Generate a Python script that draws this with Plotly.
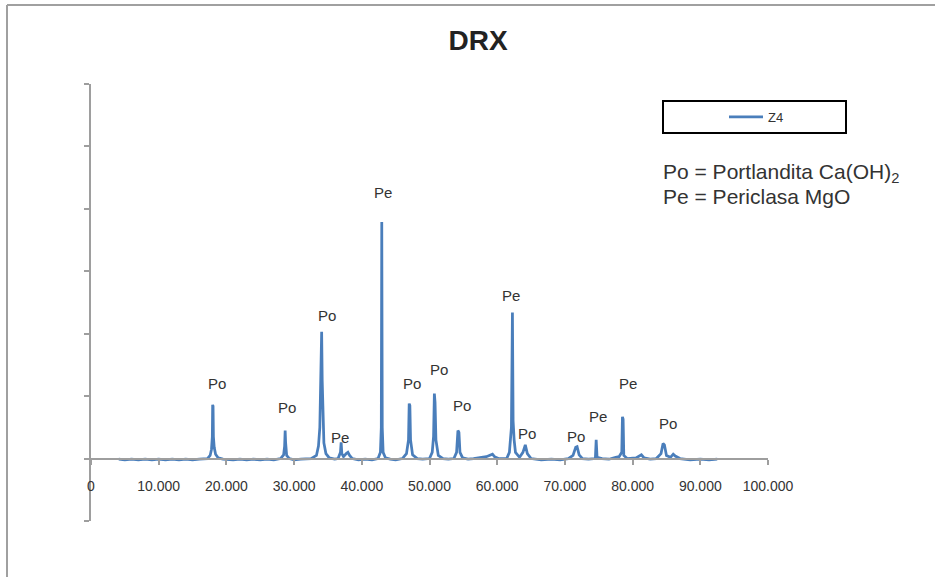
import plotly.graph_objects as go

# --- data (2-theta, relative intensity) ---
two_theta = [4.1, 5.0, 6.0, 7.0, 8.0, 9.0, 10.0, 11.0, 12.0, 13.0, 14.0, 15.0, 16.0, 17.2, 17.6, 17.8,
             17.92, 17.97, 18.03, 18.08, 18.2,
             18.4, 18.8, 19.5, 21.0, 22.0, 23.0, 24.0, 25.0, 26.0, 27.0, 28.0, 28.45, 28.6, 28.68, 28.75,
             28.9, 29.3, 30.0, 31.0,
             32.5, 33.3, 33.6, 33.8, 33.9, 34.0, 34.07, 34.15, 34.25, 34.4, 34.7, 35.2, 36.0, 36.5, 36.85,
             36.95, 37.05, 37.3, 37.7, 37.95, 38.2, 38.6, 39.5, 40.5, 41.5, 42.4, 42.75, 42.88, 42.95,
             43.02, 43.15,
             43.5, 44.2, 45.0, 46.0, 46.6, 46.9, 47.0, 47.1, 47.2, 47.5, 48.2, 49.0, 50.0, 50.4, 50.6,
             50.72, 50.82,
             50.95, 51.3, 52.0, 52.8, 53.6, 54.0, 54.2, 54.35, 54.5, 54.9, 55.7, 56.5, 57.3, 58.4, 59.3,
             59.6,
             60.2, 61.4, 61.8, 62.1, 62.25, 62.35, 62.5, 62.7, 63.3, 63.8, 64.15, 64.45, 65.0, 66.5,
             68.0, 69.3,
             70.5, 71.2, 71.6, 71.8, 72.1, 72.6, 73.5, 74.5, 74.62, 74.75, 75.5, 76.5, 77.5, 78.0, 78.4,
             78.5,
             78.6, 78.7, 79.2, 80.5, 81.3, 81.7, 82.6, 83.5, 84.2, 84.5, 84.7, 85.0, 85.6, 86.0, 86.3,
             87.0, 88.5,
             90.0, 91.3, 92.5]
intensity = [-0.01, -0.02, -0.01, -0.02, -0.01, -0.02, -0.01, -0.02, -0.01, -0.02, -0.01, -0.02, -0.01,
             0.0, 0.05, 0.15,
             0.35, 0.86, 0.84, 0.35, 0.18,
             0.07, 0.01, -0.01, -0.02, -0.01, -0.02, -0.01, -0.02, -0.01, -0.02, 0.0, 0.06, 0.2, 0.45, 0.25,
             0.05, 0.0, -0.02, -0.01,
             0.0, 0.05, 0.2, 0.5, 1.2, 1.4, 2.03, 1.25, 0.6, 0.25, 0.08, 0.01, -0.01, 0.0, 0.1,
             0.26, 0.08, 0.03, 0.08, 0.1, 0.05, 0.0, -0.02, -0.01, -0.02, 0.0, 0.1, 0.5, 3.79,
             0.5, 0.1,
             0.01, -0.01, -0.02, 0.0, 0.08, 0.3, 0.88, 0.85, 0.3, 0.06, 0.0, -0.01, 0.0, 0.1, 0.35,
             1.04, 0.9,
             0.3, 0.05, 0.0, -0.01, 0.0, 0.1, 0.45, 0.42, 0.1, 0.01, -0.01, 0.0, 0.01, 0.03, 0.07,
             0.03,
             0.0, 0.0, 0.1, 0.5, 2.34, 0.6, 0.3, 0.1, 0.02, 0.1, 0.22, 0.08, 0.0, -0.02,
             -0.01, -0.02,
             0.0, 0.05, 0.18, 0.19, 0.06, 0.0, -0.01, 0.0, 0.3, 0.02, 0.0, -0.01, 0.02, 0.03, 0.1,
             0.67,
             0.63, 0.05, 0.0, 0.01, 0.06, 0.01, -0.01, 0.0, 0.08, 0.24, 0.22, 0.05, 0.02, 0.07, 0.04,
             0.0, -0.02,
             -0.01, -0.02, -0.01]

peak_labels = ["Po", "Po", "Po", "Pe", "Pe", "Po", "Po", "Po", "Pe", "Po", "Po", "Pe", "Pe", "Po"]
label_x = [18.6, 29.0, 34.9, 36.8, 43.1, 47.4, 51.4, 54.8, 62.0, 64.4, 71.6, 74.9, 79.3, 85.2]
label_y = [1.20, 0.82, 2.29, 0.34, 4.26, 1.20, 1.42, 0.85, 2.61, 0.40, 0.35, 0.67, 1.20, 0.56]

x_tickvals = [0, 10, 20, 30, 40, 50, 60, 70, 80, 90, 100]
x_ticktext = ["0", "10.000", "20.000", "30.000", "40.000", "50.000", "60.000",
              "70.000", "80.000", "90.000", "100.000"]

FONT = "Liberation Sans, Arial, sans-serif"
TXT = "#333333"
AX = "#9e9e9e"
BLUE = "#4A7EBB"

fig = go.Figure()
fig.add_trace(go.Scatter(x=two_theta, y=intensity, mode="lines", name="Z4",
                         line=dict(color=BLUE, width=2.75)))

for t, lx, ly in zip(peak_labels, label_x, label_y):
    fig.add_annotation(x=lx, y=ly, text=t, showarrow=False, xref="x", yref="y",
                       font=dict(family=FONT, size=15, color=TXT))

W, H = 935, 577
L, R, T, B = 91, 167, 84, 56
pw, ph = W - L - R, H - T - B

def px(xp):
    return (xp - L) / pw

def py(yp):
    return (H - B - yp) / ph

fig.add_annotation(x=px(661), y=py(173), xref="paper", yref="paper", xanchor="left", yanchor="middle",
                   text="Po = Portlandita Ca(OH)<sub>2</sub>", showarrow=False,
                   font=dict(family=FONT, size=21, color=TXT))
fig.add_annotation(x=px(661), y=py(197), xref="paper", yref="paper", xanchor="left", yanchor="middle",
                   text="Pe = Periclasa MgO", showarrow=False,
                   font=dict(family=FONT, size=21, color=TXT))

# chart-area frame (left and top border)
fig.add_shape(type="line", xref="paper", yref="paper", x0=px(7), x1=px(7), y0=py(5), y1=py(600),
              line=dict(color="#a0a0a0", width=2))
fig.add_shape(type="line", xref="paper", yref="paper", x0=px(7), x1=px(960), y0=py(5), y1=py(5),
              line=dict(color="#a0a0a0", width=2))
# legend box
fig.add_shape(type="rect", xref="paper", yref="paper", x0=px(663), x1=px(846), y0=py(133), y1=py(101),
              line=dict(color="#000000", width=2), fillcolor="rgba(0,0,0,0)")

fig.update_layout(
    width=W, height=H,
    margin=dict(l=L, r=R, t=T, b=B, pad=0),
    paper_bgcolor="white", plot_bgcolor="white",
    title=dict(text="<b>DRX</b>", x=478 / W, xanchor="center", y=1 - 40 / H, yanchor="middle",
               font=dict(family=FONT, size=28, color="#222222")),
    showlegend=True,
    legend=dict(x=px(724), xanchor="left", y=py(117), yanchor="middle",
                bgcolor="rgba(0,0,0,0)", borderwidth=0, itemwidth=34,
                font=dict(family=FONT, size=13, color=TXT)),
    xaxis=dict(range=[0, 100], tickvals=x_tickvals, ticktext=x_ticktext,
               anchor="free", position=1 / 7, showline=True, linecolor=AX, linewidth=2,
               ticks="outside", ticklen=5, tickwidth=2, tickcolor=AX, showgrid=False, zeroline=False,
               ticklabelstandoff=10,
               tickfont=dict(family=FONT, size=14, color=TXT)),
    yaxis=dict(range=[-1, 6], dtick=1, tick0=0, showticklabels=False, showline=True,
               linecolor=AX, linewidth=2, ticks="outside", ticklen=5, tickwidth=2, tickcolor=AX,
               showgrid=False, zeroline=False),
)

fig.write_html("out.html", config={"displayModeBar": False},
               post_script="document.body.style.margin='0';")
